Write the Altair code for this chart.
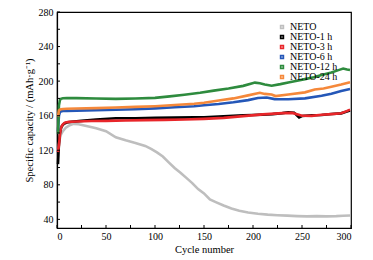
import altair as alt
import pandas as pd

series_names = ["NETO", "NETO-1 h", "NETO-3 h", "NETO-6 h", "NETO-12 h", "NETO-24 h"]
series_colors = ["#bebebe", "black", "#e8262a", "#2457b8", "#2e8b3e", "#f5883a"]

neto_cycles = [1, 2, 3, 4, 6, 9, 13, 17, 22, 30, 40, 50, 60, 70, 80, 90, 96, 102, 108, 114, 120,
               126, 132, 138, 144, 150, 156, 162, 170, 178, 186, 195, 205, 215, 225, 235, 245,
               255, 265, 275, 285, 292, 299]
neto_caps = [120, 127, 134, 138, 142, 146, 149, 150.5, 150, 148, 145.5, 142, 135, 131.5, 128.5,
             125, 121.5, 117.5, 112.7, 106, 99.5, 94, 88, 82, 75, 70, 63, 60, 56, 52.5, 50, 48,
             46.5, 45.5, 44.8, 44.3, 43.8, 43.5, 43.8, 43.5, 43.8, 44.2, 44.5]

h1_cycles = [1, 2, 3, 4, 5, 7, 10, 15, 25, 40, 60, 80, 100, 120, 140, 150, 160, 175, 190, 200,
             210, 220, 230, 236, 242, 245, 247, 250, 260, 270, 280, 290, 295, 299]
h1_caps = [104, 128, 140, 145, 148, 150.5, 152, 153, 154, 155.5, 157, 157, 157.5, 157.8, 158,
           158.2, 158.8, 159.5, 160.3, 160.8, 161.2, 161.8, 163, 164, 163.5, 160, 158, 159.6,
           160.5, 160.8, 162, 162.7, 164.5, 166]

h3_cycles = [1, 2, 3, 4, 6, 8, 12, 20, 35, 50, 70, 90, 110, 130, 150, 170, 190, 210, 230, 240,
             250, 260, 270, 280, 290, 295, 299]
h3_caps = [118, 126, 138, 146, 150, 152, 152.8, 153.2, 153.8, 154, 154.4, 154.8, 155.2, 155.6,
           156.3, 157.5, 159.5, 161.5, 163, 163.2, 160, 159.8, 161, 161.8, 162.8, 165, 167]

h6_cycles = [1, 2, 3, 4, 6, 10, 20, 40, 60, 80, 100, 120, 140, 150, 165, 180, 195, 205, 214,
             222, 236, 253, 270, 280, 290, 299]
h6_caps = [142, 160, 164, 165, 165.5, 165.5, 165.8, 166.3, 166.8, 167.5, 168.5, 169.8, 171, 172,
           173.5, 175.5, 178, 180.5, 181, 179.2, 179, 180, 183, 185.5, 188.5, 190.8]

h12_cycles = [1, 2, 3, 4, 6, 10, 20, 40, 60, 80, 100, 115, 130, 146, 160, 175, 190, 202, 207,
              212, 219, 228, 236, 245, 253, 262, 270, 280, 288, 292, 296, 299]
h12_caps = [139, 172, 178, 179.5, 180.2, 180.5, 180.3, 179.8, 179.5, 179.8, 180.6, 182.3, 184.2,
            186.5, 189, 191.5, 194.5, 198.3, 197.5, 196.2, 194.6, 196.5, 198.5, 200.5, 202.3,
            204.5, 207, 210, 213, 214.6, 213.5, 212.8]

h24_cycles = [1, 2, 3, 4, 6, 10, 20, 40, 60, 80, 100, 120, 140, 150, 165, 180, 195, 207, 212,
              219, 223, 236, 253, 263, 272, 280, 290, 299]
h24_caps = [159, 166, 167, 167.5, 167.8, 168, 168.3, 168.8, 169.5, 170.2, 171, 172.3, 173.8,
            175, 177.5, 180, 183.5, 186.5, 185.2, 184.5, 182.7, 184.6, 187, 190.4, 191.5, 193.4,
            196, 198.8]

x_label_values = [0, 50, 100, 150, 200, 250, 300]
x_tick_values = [0, 25, 50, 75, 100, 125, 150, 175, 200, 225, 250, 275, 300]
y_label_values = [40, 80, 120, 160, 200, 240, 280]
y_tick_values = [40, 60, 80, 100, 120, 140, 160, 180, 200, 220, 240, 260, 280]

all_cycles = [neto_cycles, h1_cycles, h3_cycles, h6_cycles, h12_cycles, h24_cycles]
all_caps = [neto_caps, h1_caps, h3_caps, h6_caps, h12_caps, h24_caps]

rows = []
for k, (name, cs, vs) in enumerate(zip(series_names, all_cycles, all_caps)):
    for c, v in zip(cs, vs):
        rows.append({"series": name, "cycle": c, "cap": v, "k": k})
df = pd.DataFrame(rows)
xt = pd.DataFrame({"t": x_tick_values})
yt = pd.DataFrame({"t": y_tick_values})

FONT = "Liberation Serif"
W, H = 294, 216
xscale = alt.Scale(domain=[0, 300], nice=False, zero=False)
yscale = alt.Scale(domain=[30, 280], nice=False, zero=False)

xaxis = alt.Axis(orient="bottom", values=x_label_values, tickSize=0, labelPadding=3,
                 domain=True, domainColor="black", domainWidth=1.2, labelOverlap=False,
                 grid=False, title="Cycle number", titlePadding=3,
                 labelFont=FONT, titleFont=FONT, labelFontSize=10, titleFontSize=10.5,
                 titleFontWeight="normal", labelColor="black", titleColor="black")
yaxis = alt.Axis(orient="left", values=y_label_values, tickSize=0, labelPadding=4,
                 domain=True, domainColor="black", domainWidth=1.2, labelOverlap=False,
                 grid=False, title="Specific capacity / (mAh·g⁻¹)", titlePadding=4,
                 labelFont=FONT, titleFont=FONT, labelFontSize=10, titleFontSize=10.5,
                 titleFontWeight="normal", labelColor="black", titleColor="black")

lines = alt.Chart(df).mark_line(strokeWidth=2.6).encode(
    x=alt.X("cycle:Q", scale=xscale, axis=xaxis, title="Cycle number"),
    y=alt.Y("cap:Q", scale=yscale, axis=yaxis, title="Specific capacity / (mAh·g⁻¹)"),
    color=alt.Color("series:N", scale=alt.Scale(domain=series_names, range=series_colors),
                    legend=alt.Legend(title=None, orient="none", legendX=220, legendY=10,
                                      symbolType="square", symbolSize=8, symbolStrokeWidth=1.6,
                                      labelFont=FONT, labelFontSize=10, labelColor="black",
                                      rowPadding=-4, labelOffset=3, padding=0)),
    detail="k:N",
)

xticks = alt.Chart(xt).mark_rule(strokeWidth=1).encode(
    x=alt.X("t:Q", scale=xscale, axis=xaxis, title="Cycle number"),
    y=alt.value(H - 3), y2=alt.value(H),
    color=alt.value("black"))
yticks = alt.Chart(yt).mark_rule(strokeWidth=1).encode(
    y=alt.Y("t:Q", scale=yscale, axis=yaxis, title="Specific capacity / (mAh·g⁻¹)"),
    x=alt.value(0), x2=alt.value(3),
    color=alt.value("black"))

chart = alt.layer(lines, xticks, yticks).properties(
    width=W, height=H,
    autosize=alt.AutoSizeParams(type="none"),
    padding={"left": 57, "top": 12, "right": 22, "bottom": 32},
).configure_view(stroke="black", strokeWidth=1.2)

chart.save("out.html", embed_options={"renderer": "svg", "actions": False})
